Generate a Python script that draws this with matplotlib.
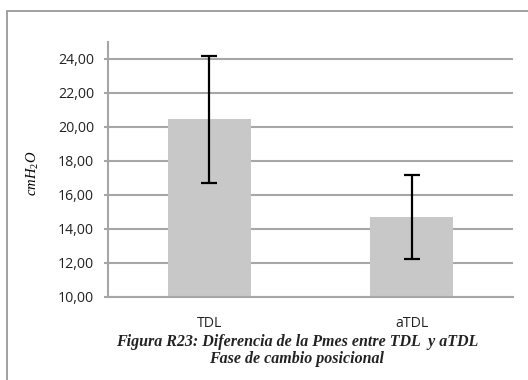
import matplotlib
matplotlib.use("Agg")
import matplotlib.pyplot as plt
from matplotlib.patches import Rectangle
from matplotlib.ticker import FuncFormatter

# Pmes por grupo (media y desviación)
grupos = ["TDL", "aTDL"]
medias = [20.45, 14.69]
errores = [3.75, 2.47]
yticks = [10, 12, 14, 16, 18, 20, 22, 24]

titulo = ["Figura R23: Diferencia de la Pmes entre TDL  y aTDL",
          "Fase de cambio posicional"]

plt.rcParams["font.family"] = ["Open Sans", "DejaVu Sans"]
plt.rcParams["mathtext.fontset"] = "custom"
plt.rcParams["mathtext.it"] = "Liberation Serif:italic"
plt.rcParams["mathtext.rm"] = "Liberation Serif"

W, H = 528, 380
fig = plt.figure(figsize=(W / 100, H / 100), dpi=100)

# marco exterior gris
fig.patches.append(Rectangle((7 / W, -0.1), 1.2, 1 - 11 / H + 0.1,
                             transform=fig.transFigure, fill=False,
                             edgecolor="#9a9a9a", linewidth=1.3))

ax = fig.add_axes([108 / W, 1 - 297 / H, (513 - 108) / W, (297 - 42) / H])

grid_c = "#a6a6a6"
x = range(len(grupos))
ax.bar(x, medias, width=0.41, color="#c8c8c8", zorder=2)
ax.errorbar(x, medias, yerr=errores, fmt="none", ecolor="black",
            elinewidth=1.6, capsize=5.5, capthick=1.6, zorder=3)

ax.set_xlim(-0.5, 1.5)
ax.set_ylim(10, 25)
ax.set_yticks(yticks)
ax.yaxis.set_major_formatter(FuncFormatter(lambda v, p: f"{v:.2f}".replace(".", ",")))
ax.set_xticks(list(x))
ax.set_xticklabels(grupos)
ax.yaxis.grid(True, color=grid_c, linewidth=1.5, zorder=0)
ax.set_axisbelow(True)

for s in ["top", "right"]:
    ax.spines[s].set_visible(False)
ax.spines["left"].set_color(grid_c)
ax.spines["left"].set_linewidth(1.5)
ax.spines["bottom"].set_color(grid_c)
ax.spines["bottom"].set_linewidth(1.5)
ax.tick_params(axis="y", length=3, width=1.5, color=grid_c, labelsize=10.2,
               pad=7, labelcolor="#222222")
ax.tick_params(axis="x", length=0, labelsize=10.2, pad=14, labelcolor="#222222")

fig.text(33 / W, 1 - 173 / H, r"$cmH_2O$", rotation=90, ha="center",
         va="center", fontsize=10.5)

fig.text(297 / W, 1 - 342 / H, titulo[0], ha="center", va="center",
         fontsize=11.5, family="Liberation Serif", style="italic",
         weight="bold", color="#222222")
fig.text(297 / W, 1 - 359 / H, titulo[1], ha="center", va="center",
         fontsize=11.5, family="Liberation Serif", style="italic",
         weight="bold", color="#222222")

fig.savefig("out.png", dpi=100)
